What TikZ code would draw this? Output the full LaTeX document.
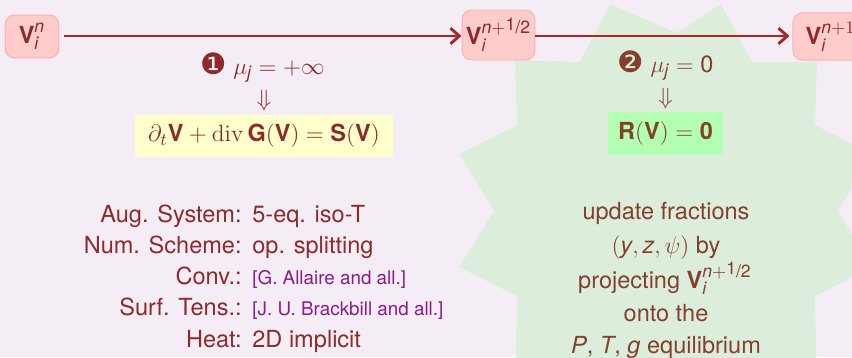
\documentclass[tikz,border=0pt]{standalone}
\usepackage{amsmath}
\usepackage[no-math]{fontspec}
\setmainfont{TeX Gyre Heros}
\newfontfamily\dingfont{DejaVu Sans}
\usetikzlibrary{arrows.meta}
\DeclareMathSizes{12}{12}{9}{7}
\definecolor{bgc}{HTML}{F5EDF5}
\definecolor{burst}{HTML}{DCEDDC}
\definecolor{vred}{HTML}{8E2A2A}
\definecolor{arrowred}{HTML}{A82828}
\definecolor{brownt}{HTML}{83402C}
\definecolor{refpurple}{HTML}{8B1A8B}
\definecolor{boxfill}{HTML}{FFCCCC}
\definecolor{boxline}{HTML}{FFAEAE}
\definecolor{yelbox}{HTML}{FFFFCC}
\definecolor{grnbox}{HTML}{B3FFB3}
\newcommand\bfV[1]{\text{\bfseries #1}}
\newcommand\si[1]{\text{\itshape #1}}
\newcommand\half{\text{\raisebox{.3ex}{1}/2}}
\newcommand\dg[1]{{\dingfont\fontsize{15}{15}\selectfont\char"#1}}
\begin{document}
\begin{tikzpicture}[x=0.51pt,y=-0.51pt,
  font=\fontsize{12}{15}\selectfont,
  vbox/.style={draw=boxline, fill=boxfill, rounded corners=5pt, line width=0.5pt, text=vred, inner sep=0pt},
  flow/.style={line width=1.5pt, draw=arrowred, -{Straight Barb[length=4.5pt,width=8pt,line width=1.5pt]}},
  lbl/.style={anchor=base east, text=vred, inner sep=0pt},
  val/.style={anchor=base west, text=vred, inner sep=0pt},
  refv/.style={anchor=base west, text=refpurple, inner sep=0pt, font=\fontsize{9.6}{12}\selectfont},
  rtxt/.style={anchor=base, text=brownt, inner sep=0pt},
  ltxt/.style={anchor=base, text=vred, inner sep=0pt}]
\useasboundingbox (0,0) rectangle (852,357);
\clip (0,0) rectangle (852,357);
\fill[bgc] (0,0) rectangle (852,357);
% starburst
\fill[burst] (610,4) -- (677,33) -- (721,4) -- (752,62) -- (817,62) -- (815,125)
  -- (872,154) -- (838,211) -- (872,267) -- (815,296) -- (817,420) -- (515,420)
  -- (517,296) -- (459,267) -- (494,211) -- (459,154) -- (517,125) -- (515,60)
  -- (580,62) -- cycle;
% state boxes
\node[vbox, minimum width=27.5pt, minimum height=21.9pt] (vn) at (32,36.5) {$\bfV{V}_{\si{i}}^{\si{n}}$};
\node[vbox, minimum width=37.2pt, minimum height=25.5pt] (vh) at (498.5,35) {$\bfV{V}_{\si{i}}^{\si{n}+\half}$};
\node[vbox, minimum width=38.3pt, minimum height=24pt] (v1) at (830.5,36.5) {$\bfV{V}_{\si{i}}^{\si{n}+1}$};
\draw[flow, shorten <=2.5pt] (vn.east |- 0,36) -- (vh.west |- 0,36);
\draw[flow, shorten >=1.5pt] (vh.east |- 0,36) -- (v1.west |- 0,36);
% step 1
\node[ltxt] (s1) at (262.5,74) {\dg{2776}\ $\mu_{\si{j}}=+\infty$};
\node[text=vred, inner sep=0pt] (d1) at (264,101) {$\Downarrow$};
\node[fill=yelbox, text=vred, minimum width=131.6pt, minimum height=21.4pt, inner sep=0pt] (eq1) at (264,136)
  {$\partial_t\bfV{V}+\operatorname{div}\bfV{G}(\bfV{V})=\bfV{S}(\bfV{V})$};
% step 2
\node[rtxt] (s2) at (665.5,72) {\dg{2777}\ $\mu_{\si{j}}=\text{0}$};
\node[text=brownt, inner sep=0pt] (d2) at (665.5,98.5) {$\Downarrow$};
\node[fill=grnbox, text=brownt, minimum width=58.7pt, minimum height=21.9pt, inner sep=0pt] (eq2) at (665.5,133.5)
  {$\bfV{R}(\bfV{V})=\bfV{0}$};
% left list
\node[lbl] (l1) at (242,222) {Aug. System:};
\node[val] (r1) at (252,222) {5-eq. iso-T};
\node[lbl] (l2) at (242,253) {Num. Scheme:};
\node[val] (r2) at (252,253) {op. splitting};
\node[lbl] (l3) at (242,284) {Conv.:};
\node[refv] (r3) at (252,284) {[G. Allaire and all.]};
\node[lbl] (l4) at (242,315) {Surf. Tens.:};
\node[refv] (r4) at (252,315) {[J. U. Brackbill and all.]};
\node[lbl] (l5) at (242,347) {Heat:};
\node[val] (r5) at (252,347) {2D implicit};
% right text
\node[rtxt] (t1) at (666,219) {update fractions};
\node[rtxt] (t2) at (666,253) {$(\si{y},\si{z},\psi)$ by};
\node[rtxt] (t3) at (665,288) {projecting $\bfV{V}_{\si{i}}^{\si{n}+\half}$};
\node[rtxt] (t4) at (666,321) {onto the};
\node[rtxt] (t5) at (666,353) {\textit{P}, \textit{T}, \textit{g} equilibrium};
\end{tikzpicture}
\end{document}
